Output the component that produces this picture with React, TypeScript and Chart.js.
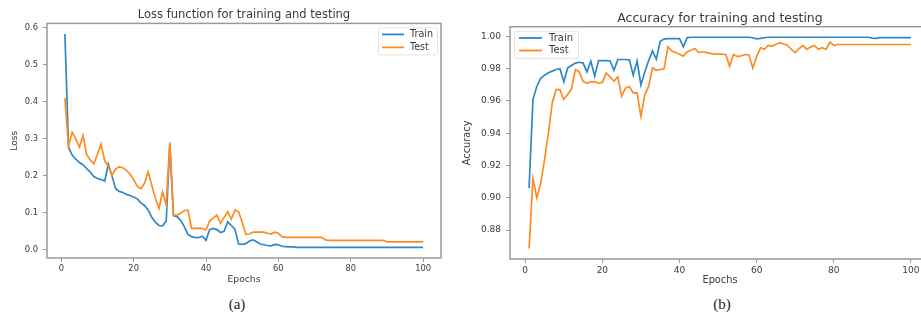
import React, { useEffect, useRef } from "react";
import { Chart, registerables } from "chart.js";

Chart.register(...registerables);

// ---------- data ----------
const epochs: number[] = Array.from({ length: 100 }, (_, i) => i + 1);

const lossTrain: number[] = [
  0.583, 0.278, 0.256, 0.245, 0.236, 0.230, 0.220, 0.210, 0.198, 0.193,
  0.190, 0.186, 0.232, 0.200, 0.166, 0.158, 0.155, 0.150, 0.147, 0.143,
  0.138, 0.127, 0.120, 0.108, 0.088, 0.075, 0.066, 0.065, 0.078, 0.285,
  0.093, 0.090, 0.080, 0.063, 0.042, 0.036, 0.034, 0.033, 0.037, 0.026,
  0.055, 0.058, 0.055, 0.047, 0.050, 0.076, 0.066, 0.056, 0.016, 0.015,
  0.017, 0.024, 0.027, 0.022, 0.016, 0.014, 0.012, 0.011, 0.015, 0.014,
  0.010, 0.009, 0.008, 0.008, 0.007, 0.007, 0.007, 0.007, 0.007, 0.007,
  0.007, 0.007, 0.007, 0.007, 0.007, 0.007, 0.007, 0.007, 0.007, 0.007,
  0.007, 0.007, 0.007, 0.007, 0.007, 0.007, 0.007, 0.007, 0.007, 0.007,
  0.007, 0.007, 0.007, 0.007, 0.007, 0.007, 0.007, 0.007, 0.007, 0.007,
];

const lossTest: number[] = [
  0.410, 0.280, 0.318, 0.300, 0.278, 0.309, 0.258, 0.243, 0.233, 0.258,
  0.286, 0.240, 0.226, 0.202, 0.218, 0.225, 0.222, 0.215, 0.205, 0.190,
  0.172, 0.165, 0.180, 0.211, 0.175, 0.140, 0.112, 0.157, 0.121, 0.291,
  0.094, 0.094, 0.099, 0.106, 0.108, 0.058, 0.058, 0.059, 0.058, 0.054,
  0.078, 0.086, 0.094, 0.072, 0.088, 0.103, 0.083, 0.108, 0.103, 0.075,
  0.042, 0.043, 0.048, 0.048, 0.048, 0.048, 0.045, 0.043, 0.048, 0.045,
  0.036, 0.034, 0.034, 0.034, 0.034, 0.034, 0.034, 0.034, 0.034, 0.034,
  0.034, 0.034, 0.027, 0.026, 0.026, 0.026, 0.026, 0.026, 0.026, 0.026,
  0.026, 0.026, 0.026, 0.026, 0.026, 0.026, 0.026, 0.026, 0.026, 0.022,
  0.022, 0.022, 0.022, 0.022, 0.022, 0.022, 0.022, 0.022, 0.022, 0.022,
];

const accTrain: number[] = [
  0.906, 0.961, 0.969, 0.974, 0.976, 0.9775, 0.9785, 0.9795, 0.980, 0.972,
  0.9805, 0.982, 0.9835, 0.984, 0.9835, 0.978, 0.9847, 0.9755, 0.985, 0.985,
  0.985, 0.9848, 0.979, 0.9857, 0.9857, 0.9857, 0.9855, 0.976, 0.9848, 0.970,
  0.978, 0.985, 0.991, 0.986, 0.997, 0.9984, 0.9986, 0.9987, 0.9987, 0.9987,
  0.9935, 0.9993, 0.9995, 0.9995, 0.9995, 0.9995, 0.9995, 0.9995, 0.9995, 0.9995,
  0.9995, 0.9995, 0.9995, 0.9995, 0.9995, 0.9995, 0.9995, 0.9995, 0.9992, 0.9985,
  0.9988, 0.9992, 0.9995, 0.9995, 0.9995, 0.9995, 0.9995, 0.9995, 0.9995, 0.9995,
  0.9995, 0.9995, 0.9995, 0.9995, 0.9995, 0.9995, 0.9995, 0.9995, 0.9995, 0.9995,
  0.9995, 0.9995, 0.9995, 0.9995, 0.9995, 0.9995, 0.9995, 0.9995, 0.9995, 0.999,
  0.9988, 0.9993, 0.9993, 0.9993, 0.9993, 0.9993, 0.9993, 0.9993, 0.9993, 0.9993,
];

const accTest: number[] = [
  0.8686, 0.912, 0.900, 0.909, 0.9235, 0.940, 0.9588, 0.967, 0.967, 0.961,
  0.964, 0.9675, 0.9795, 0.978, 0.9722, 0.971, 0.9718, 0.972, 0.971, 0.9715,
  0.9774, 0.975, 0.9722, 0.975, 0.963, 0.968, 0.969, 0.965, 0.965, 0.9504,
  0.964, 0.969, 0.9805, 0.979, 0.9795, 0.980, 0.9936, 0.991, 0.990, 0.989,
  0.9878, 0.9905, 0.9915, 0.9925, 0.990, 0.9905, 0.990, 0.9895, 0.989, 0.989,
  0.989, 0.9888, 0.9815, 0.9888, 0.9875, 0.988, 0.9888, 0.9885, 0.9805, 0.9875,
  0.993, 0.992, 0.9944, 0.994, 0.9952, 0.996, 0.9955, 0.9944, 0.992, 0.990,
  0.9925, 0.9944, 0.992, 0.9935, 0.9944, 0.992, 0.993, 0.992, 0.9965, 0.9944,
  0.995, 0.995, 0.995, 0.995, 0.995, 0.995, 0.995, 0.995, 0.995, 0.995,
  0.995, 0.995, 0.995, 0.995, 0.995, 0.995, 0.995, 0.995, 0.995, 0.995,
];

const epochTicks: number[] = [0, 20, 40, 60, 80, 100];
const lossTicks: number[] = [0.0, 0.1, 0.2, 0.3, 0.4, 0.5, 0.6];
const accTicks: number[] = [0.88, 0.9, 0.92, 0.94, 0.96, 0.98, 1.0];

const seriesLabels: string[] = ["Train", "Test"];
const chartTitles: string[] = [
  "Loss function for training and testing",
  "Accuracy for training and testing",
];
const yTitles: string[] = ["Loss", "Accuracy"];
const xTitle = "Epochs";
const captions: string[] = ["(a)", "(b)"];

// ---------- style ----------
const BLUE = "#3087c8";
const ORANGE = "#ff8b1f";
const TEXT = "#3a3a3a";
const SPINE = "#9a9a9a";
const FONT = "'DejaVu Sans', sans-serif";

const framePlugin = {
  id: "mplFrame",
  afterDatasetsDraw(chart: any) {
    const { ctx, chartArea } = chart;
    ctx.save();
    ctx.strokeStyle = SPINE;
    ctx.lineWidth = 1.5;
    ctx.strokeRect(
      chartArea.left,
      chartArea.top,
      chartArea.right - chartArea.left,
      chartArea.bottom - chartArea.top
    );
    ctx.restore();
  },
};

const legendPlugin = {
  id: "mplLegend",
  afterDraw(chart: any, _args: any, opts: any) {
    const { ctx, chartArea } = chart;
    const fs = opts.fontSize;
    ctx.save();
    ctx.font = `${fs}px ${FONT}`;
    const items = chart.data.datasets.map((d: any) => ({
      label: d.label,
      color: d.borderColor,
    }));
    const tw = Math.max(...items.map((i: any) => ctx.measureText(i.label).width));
    const w = opts.padX + opts.handle + opts.gap + tw + opts.padX;
    const h = (opts.rowTop - opts.margin) * 2 + opts.row * (items.length - 1);
    const x =
      opts.side === "right"
        ? chartArea.right - opts.margin - w
        : chartArea.left + opts.margin;
    const y = chartArea.top + opts.margin;
    ctx.fillStyle = "rgba(255,255,255,0.85)";
    ctx.strokeStyle = "#e2e2e2";
    ctx.lineWidth = 1;
    ctx.beginPath();
    if ((ctx as any).roundRect) (ctx as any).roundRect(x + 0.5, y + 0.5, w, h, 2);
    else ctx.rect(x + 0.5, y + 0.5, w, h);
    ctx.fill();
    ctx.stroke();
    items.forEach((it: any, i: number) => {
      const cy = chartArea.top + opts.rowTop + opts.row * i;
      ctx.strokeStyle = it.color;
      ctx.lineWidth = 1.8;
      ctx.beginPath();
      ctx.moveTo(x + opts.padX, cy);
      ctx.lineTo(x + opts.padX + opts.handle, cy);
      ctx.stroke();
      ctx.fillStyle = TEXT;
      ctx.textBaseline = "middle";
      ctx.textAlign = "left";
      ctx.fillText(it.label, x + opts.padX + opts.handle + opts.gap, cy);
    });
    ctx.restore();
  },
};

type PanelProps = {
  train: number[];
  test: number[];
  yTicks: number[];
  decimals: number;
  title: string;
  yTitle: string;
  width: number;
  height: number;
  yWidth: number;
  xHeight: number;
  padRight: number;
  titlePad: { top: number; bottom: number };
  titleSize: number;
  tickSize: number;
  labelSize: number;
  yTitlePad: number;
  xTitlePad: number;
  legend: any;
};

function Panel(p: PanelProps) {
  const ref = useRef<HTMLCanvasElement | null>(null);
  useEffect(() => {
    if (!ref.current) return;
    const all = [...p.train, ...p.test];
    const lo = Math.min(...all);
    const hi = Math.max(...all);
    const m = (hi - lo) * 0.05;
    const xs = epochs;
    const xm = (xs[xs.length - 1] - xs[0]) * 0.05;
    const tickFont = { family: FONT, size: p.tickSize };
    const labelFont = { family: FONT, size: p.labelSize };
    const chart = new Chart(ref.current, {
      type: "line",
      data: {
        datasets: [
          {
            label: seriesLabels[0],
            data: epochs.map((e, i) => ({ x: e, y: p.train[i] })),
            borderColor: BLUE,
            backgroundColor: BLUE,
            borderWidth: 1.7,
            pointRadius: 0,
            tension: 0,
            order: 1,
          },
          {
            label: seriesLabels[1],
            data: epochs.map((e, i) => ({ x: e, y: p.test[i] })),
            borderColor: ORANGE,
            backgroundColor: ORANGE,
            borderWidth: 1.7,
            pointRadius: 0,
            tension: 0,
            order: 0,
          },
        ],
      },
      options: {
        responsive: false,
        animation: false,
        events: [],
        layout: { padding: { left: 0, right: p.padRight, top: 0, bottom: 0 } },
        plugins: {
          legend: { display: false },
          tooltip: { enabled: false },
          title: {
            display: true,
            fullSize: false,
            text: p.title,
            color: TEXT,
            font: { family: FONT, size: p.titleSize, weight: "normal" },
            padding: p.titlePad,
          },
          mplLegend: p.legend,
        } as any,
        scales: {
          x: {
            type: "linear",
            min: xs[0] - xm,
            max: xs[xs.length - 1] + xm,
            afterBuildTicks: (s: any) => {
              s.ticks = epochTicks.map((v) => ({ value: v }));
            },
            afterFit: (s: any) => {
              s.height = p.xHeight;
            },
            ticks: {
              autoSkip: false,
              maxRotation: 0,
              color: TEXT,
              font: tickFont,
              padding: 2,
              callback: (v: any) => String(v),
            },
            grid: {
              display: true,
              drawOnChartArea: false,
              drawTicks: true,
              tickLength: 4,
              color: SPINE,
              lineWidth: 1,
            },
            border: { display: false },
            title: {
              display: true,
              text: xTitle,
              color: TEXT,
              font: labelFont,
              padding: { top: p.xTitlePad, bottom: p.xTitlePad },
            },
          },
          y: {
            type: "linear",
            min: lo - m,
            max: hi + m,
            afterBuildTicks: (s: any) => {
              s.ticks = p.yTicks.map((v) => ({ value: v }));
            },
            afterFit: (s: any) => {
              s.width = p.yWidth;
            },
            ticks: {
              color: TEXT,
              font: tickFont,
              padding: 5,
              callback: (v: any) => Number(v).toFixed(p.decimals),
            },
            grid: {
              display: true,
              drawOnChartArea: false,
              drawTicks: true,
              tickLength: 4,
              color: SPINE,
              lineWidth: 1,
            },
            border: { display: false },
            title: {
              display: true,
              text: p.yTitle,
              color: TEXT,
              font: labelFont,
              padding: { top: p.yTitlePad, bottom: p.yTitlePad },
            },
          },
        },
      },
      plugins: [framePlugin, legendPlugin],
    } as any);
    return () => chart.destroy();
  }, []);
  return (
    <canvas
      ref={ref}
      width={p.width}
      height={p.height}
      style={{ width: p.width, height: p.height, display: "block" }}
    />
  );
}

export default function App() {
  return (
    <div
      style={{
        position: "fixed",
        left: 0,
        top: 0,
        width: 921,
        height: 323,
        overflow: "hidden",
        background: "#fff",
      }}
    >
      <div style={{ position: "absolute", left: 0, top: 0 }}>
        <Panel
          train={lossTrain}
          test={lossTest}
          yTicks={lossTicks}
          decimals={1}
          title={chartTitles[0]}
          yTitle={yTitles[0]}
          width={455}
          height={290}
          yWidth={47}
          xHeight={32}
          padRight={14}
          titlePad={{ top: 8, bottom: 1.6 }}
          titleSize={11.5}
          tickSize={8.3}
          labelSize={9.2}
          yTitlePad={9.5}
          xTitlePad={4.5}
          legend={{ side: "right", margin: 4, padX: 4, handle: 22, gap: 6, rowTop: 11, row: 13, fontSize: 9.6 }}
        />
      </div>
      <div style={{ position: "absolute", left: 460, top: 0 }}>
        <Panel
          train={accTrain}
          test={accTest}
          yTicks={accTicks}
          decimals={2}
          title={chartTitles[1]}
          yTitle={yTitles[1]}
          width={480}
          height={290}
          yWidth={50}
          xHeight={31}
          padRight={10}
          titlePad={{ top: 10.8, bottom: 0.9 }}
          titleSize={12.5}
          tickSize={9}
          labelSize={9.8}
          yTitlePad={1.1}
          xTitlePad={4.1}
          legend={{ side: "left", margin: 4, padX: 5, handle: 23, gap: 7, rowTop: 11.3, row: 12.5, fontSize: 10 }}
        />
      </div>
      {captions.map((c, i) => (
        <div
          key={c}
          style={{
            position: "absolute",
            left: (i === 0 ? 237 : 722) - 30,
            top: 294,
            width: 60,
            textAlign: "center",
            fontFamily: "'Liberation Serif', 'DejaVu Serif', serif",
            fontSize: 15,
            lineHeight: "20px",
            color: "#222",
          }}
        >
          {c}
        </div>
      ))}
    </div>
  );
}
